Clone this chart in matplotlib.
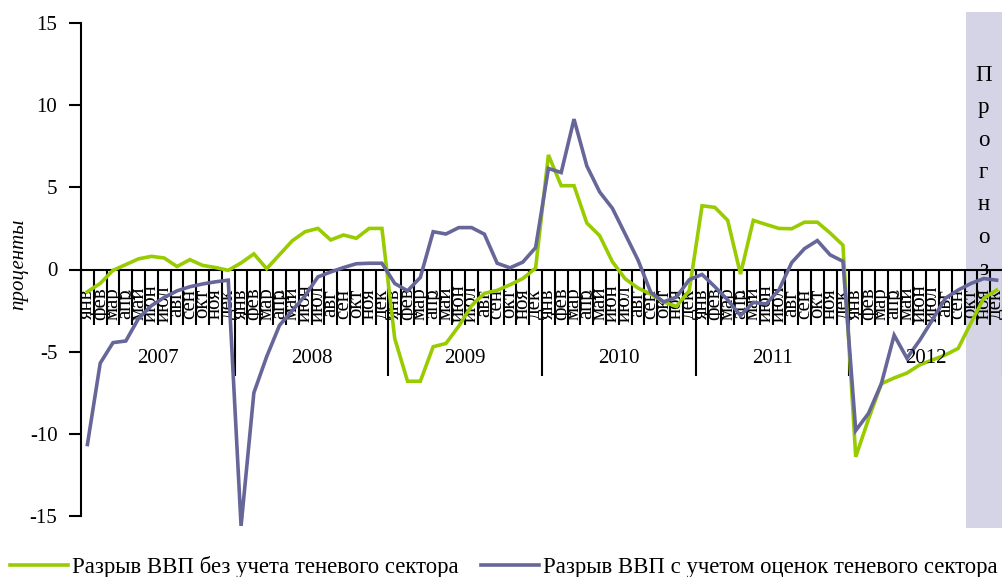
import matplotlib
matplotlib.use("Agg")
import matplotlib.pyplot as plt
from matplotlib.patches import Rectangle
from matplotlib.lines import Line2D

plt.rcParams['font.family'] = ['Liberation Serif', 'DejaVu Serif']

months = ['янв', 'фев', 'мар', 'апр', 'май', 'июн', 'июл', 'авг', 'сен', 'окт', 'ноя', 'дек']
years = ['2007', '2008', '2009', '2010', '2011', '2012']

gap_no_shadow = [
    # 2007
    -1.35, -0.85, -0.05, 0.3, 0.65, 0.8, 0.7, 0.18, 0.6, 0.25, 0.12, -0.05,
    # 2008
    0.4, 0.95, 0.05, 0.9, 1.75, 2.3, 2.5, 1.8, 2.1, 1.9, 2.5, 2.5,
    # 2009
    -4.2, -6.8, -6.8, -4.7, -4.5, -3.45, -2.2, -1.45, -1.27, -0.93, -0.55, 0.08,
    # 2010
    6.97, 5.1, 5.1, 2.83, 2.06, 0.47, -0.57, -1.13, -1.5, -1.97, -2.25, -1.28,
    # 2011
    3.88, 3.78, 2.99, -0.28, 2.99, 2.74, 2.5, 2.48, 2.88, 2.88, 2.22, 1.48,
    # 2012
    -11.4, -9.1, -6.95, -6.6, -6.3, -5.8, -5.5, -5.2, -4.8, -3.25, -1.75, -1.25,
]

gap_with_shadow = [
    # 2007
    -10.65, -5.7, -4.45, -4.35, -2.97, -2.2, -1.7, -1.3, -1.05, -0.88, -0.75, -0.65,
    # 2008
    -15.6, -7.5, -5.3, -3.4, -2.5, -1.6, -0.45, -0.15, 0.12, 0.35, 0.38, 0.38,
    # 2009
    -0.85, -1.3, -0.48, 2.3, 2.16, 2.55, 2.55, 2.15, 0.38, 0.1, 0.45, 1.33,
    # 2010
    6.15, 5.9, 9.15, 6.3, 4.72, 3.72, 2.15, 0.57, -1.4, -1.97, -1.68, -0.62,
    # 2011
    -0.3, -1.05, -1.85, -2.8, -2.0, -2.1, -1.25, 0.42, 1.27, 1.76, 0.89, 0.5,
    # 2012
    -9.8, -8.75, -6.95, -4.0, -5.4, -4.3, -3.05, -1.75, -1.25, -0.85, -0.55, -0.65,
]

label_green = 'Разрыв ВВП без учета теневого сектора'
label_purple = 'Разрыв ВВП с учетом оценок теневого сектора'
forecast_text = 'Прогноз'

GREEN = '#99CC00'
PURPLE = '#666699'
SHADE = '#D4D4E6'
FS = 15

W, H = 1003, 577
fig = plt.figure(figsize=(W / 100, H / 100), dpi=100)
ax = fig.add_axes([81 / W, 1 - 516 / H, (W - 81) / W, (516 - 23) / H])

n = len(gap_no_shadow)
x = list(range(n))
ax.set_xlim(-0.5, n - 0.5)
ax.set_ylim(-15, 15)

# forecast shading (last three months)
ax.add_patch(Rectangle((68.6, -15.75), n - 0.5 - 68.6, 31.42, facecolor=SHADE,
                       edgecolor='none', clip_on=False, zorder=0))
letter_y = [11.5, 9.5, 7.5, 5.55, 3.6, 1.6, -0.35]
for ch, yy in zip(forecast_text, letter_y):
    ax.text(70.0, yy, ch, ha='center', va='baseline', fontsize=16.5, zorder=1)

# spines / y axis
for s in ['top', 'right', 'bottom']:
    ax.spines[s].set_visible(False)
ax.spines['left'].set_linewidth(1.5)
ax.set_yticks([-15, -10, -5, 0, 5, 10, 15])
ax.set_yticklabels(['-15', '-10', '-5', '0', '5', '10', '15'])
ax.tick_params(axis='y', direction='out', length=9, width=1.5, pad=8, labelsize=FS)
ax.set_xticks([])

ax.set_ylabel('проценты', fontsize=FS, fontstyle='italic', va='center', ha='center')
ax.yaxis.set_label_coords(-0.068, 0.511)

# zero line and category ticks
ax.axhline(0, color='black', lw=1.5, zorder=2)
month_bounds = [i - 0.5 for i in range(1, n) if i % 12 != 0]
year_bounds = [i - 0.5 for i in range(0, n + 1, 12)]
ax.vlines(month_bounds, -3.4, 0, color='black', lw=1.5, zorder=2)
ax.vlines(year_bounds, -6.5, 0, color='black', lw=1.5, zorder=2, clip_on=False)

for i in range(n):
    ax.text(i, -2.07, months[i % 12], rotation=90, ha='center', va='center',
            fontsize=FS, zorder=2)
for k, yr in enumerate(years):
    ax.text(12 * k + 5.5, -5.4, yr, ha='center', va='center', fontsize=FS, zorder=4)

ax.plot(x, gap_no_shadow, color=GREEN, lw=2.6, zorder=3, solid_joinstyle='miter',
        clip_on=False)
ax.plot(x, gap_with_shadow, color=PURPLE, lw=2.6, zorder=3, solid_joinstyle='miter',
        clip_on=False)

# legend
LFS = 16.4
handles = [Line2D([], [], color=GREEN, lw=2.6), Line2D([], [], color=PURPLE, lw=2.6)]
fig.legend(handles, [label_green, label_purple], loc='center left',
           bbox_to_anchor=(10 / W, 1 - 567 / H), ncol=2, frameon=False,
           fontsize=LFS, handlelength=2.55, handletextpad=0.18, columnspacing=0.97,
           borderpad=0, borderaxespad=0)

fig.savefig('out.png', dpi=100)
